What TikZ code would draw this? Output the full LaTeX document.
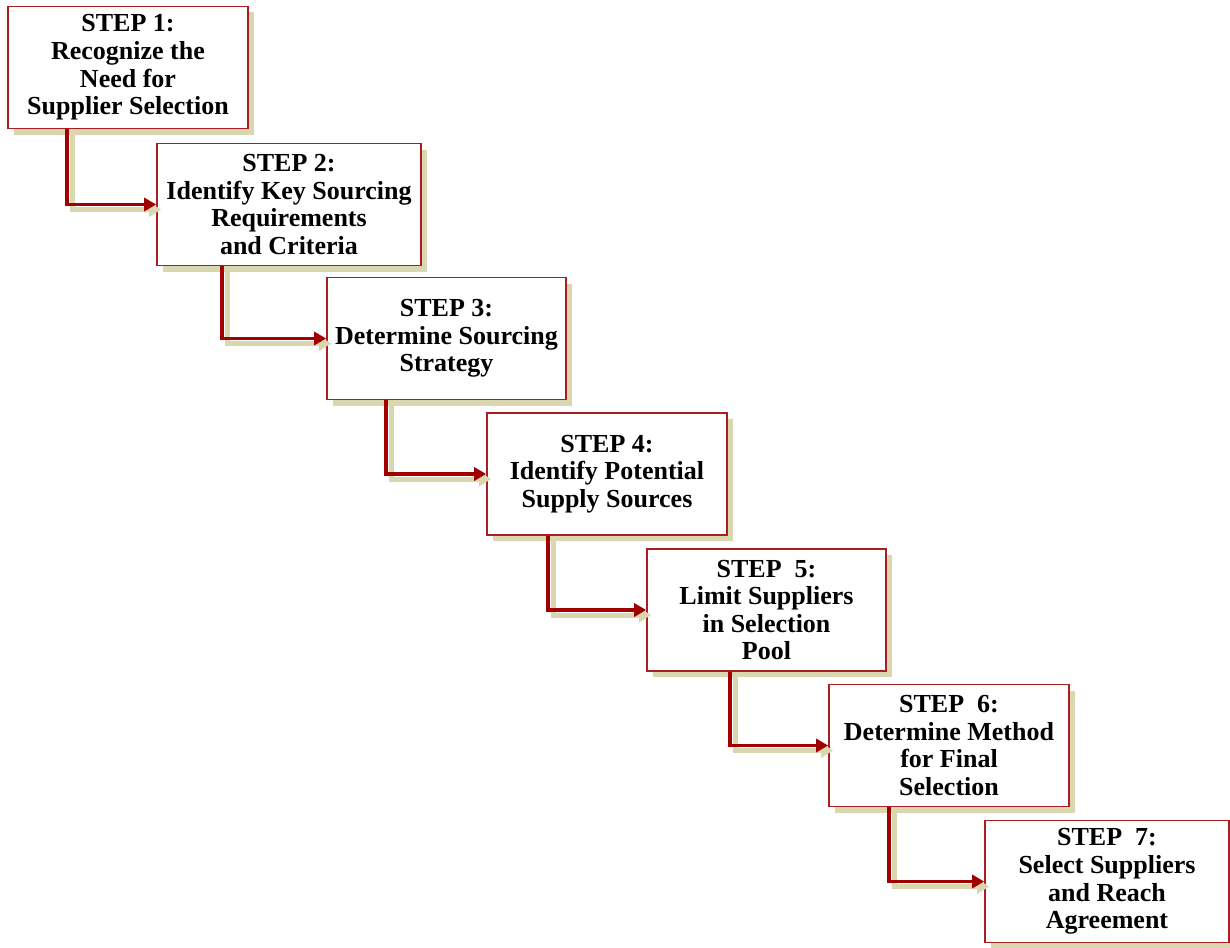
\documentclass[tikz,border=0pt]{standalone}
\usepackage{fontspec}
\setmainfont{Liberation Serif}
\usetikzlibrary{shadows,arrows.meta}

\definecolor{boxRed}{RGB}{170,30,35}
\definecolor{arrowRed}{RGB}{160,0,0}
\definecolor{shadowKhaki}{RGB}{218,214,176}

\begin{document}
\begin{tikzpicture}
[x=0.5pt,y=-0.5pt,
  stepDecorate/.style={shape=rectangle,draw=boxRed,line width=0.8pt,fill=white,
    minimum height=61pt,inner sep=2pt,align=center,
    font=\fontsize{13}{13.8}\selectfont\bfseries,
    drop shadow={shadow xshift=3pt,shadow yshift=-3pt,fill=shadowKhaki,opacity=1}},
  arrowDecorate/.style={draw=arrowRed,line width=1.8pt,
    -{Triangle[length=6pt,width=6.5pt]}},
  shadowDecorate/.style={draw=shadowKhaki,line width=2.5pt,
    -{Triangle[length=6pt,width=7pt]}}]
\useasboundingbox (0,0) rectangle (1230,947);
%% step boxes
\foreach \nodename/\x/\y/\w/\txt in {
  b1/128/67.5/120pt/{STEP 1:\\Recognize the\\Need for\\Supplier Selection},
  b2/289/204.5/132pt/{STEP 2:\\Identify Key Sourcing\\Requirements\\and Criteria},
  b3/446.5/338.5/119.5pt/{STEP 3:\\Determine Sourcing\\Strategy},
  b4/607/474/120pt/{STEP 4:\\Identify Potential\\Supply Sources},
  b5/766.5/610/119.5pt/{STEP~~5:\\Limit Suppliers\\in Selection\\Pool},
  b6/949/745.5/120pt/{STEP~~6:\\Determine Method\\for Final\\Selection},
  b7/1107/881.5/122pt/{STEP~~7:\\Select Suppliers\\and Reach\\Agreement}}
{
  \node (\nodename) at (\x,\y) [stepDecorate,minimum width=\w] {\txt};
}
%% connectors
\foreach \startnode/\endnode/\dx in {
  b1/b2/30, b2/b3/33, b3/b4/30, b4/b5/31, b5/b6/42, b6/b7/30.5}
{
  \draw[shadowDecorate,transform canvas={shift={(2.5pt,-2.5pt)}}]
    ([xshift=\dx pt]\startnode.south west) |- (\endnode.west);
  \draw[arrowDecorate] ([xshift=\dx pt]\startnode.south west) |- (\endnode.west);
}
\end{tikzpicture}
\end{document}
